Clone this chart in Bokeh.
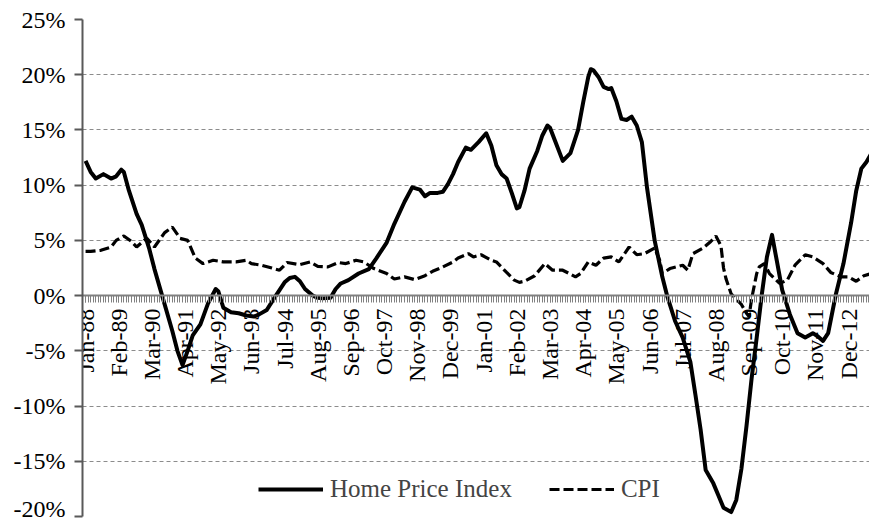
from bokeh.plotting import figure
from bokeh.models import FixedTicker, Legend, LegendItem, Range1d, ColumnDataSource
from bokeh.embed import file_html
from bokeh.resources import INLINE

# Month index 0 = Jan-88
hpi_month = [0, 2, 4, 7, 10, 12, 14, 15, 17, 20, 22, 25, 27, 30, 34, 36, 38, 40, 42, 45, 48, 51, 52, 54, 57,
             60, 63, 66, 68, 71, 74, 76, 78, 80, 82, 84, 86, 89, 91, 93, 96, 98, 100, 103, 107, 111, 114, 118,
             121, 125, 128, 131, 133, 135, 138, 140, 142, 144, 146, 149, 151, 154, 157, 159, 161, 163, 165, 167,
             169, 170, 172, 174, 177, 179, 181, 182, 184, 187, 190, 193, 195, 197, 198, 199, 201, 203, 205, 206,
             208, 210, 212, 214, 216, 218, 220, 223, 226, 228, 231, 234, 237, 239, 241, 243, 246, 248, 250, 253,
             255, 257, 259, 261, 263, 265, 267, 269, 271, 273, 276, 279, 282, 285, 287, 289, 291, 294, 297, 300,
             302, 304, 306, 308]
hpi_value = [12.2, 11.2, 10.6, 11.0, 10.6, 10.8, 11.4, 11.2, 9.5, 7.4, 6.4, 4.2, 2.4, 0.0, -3.2, -5.0, -6.3, -5.0,
             -3.6, -2.6, -0.7, 0.6, 0.4, -1.1, -1.5, -1.6, -1.8, -1.9, -1.7, -1.3, -0.2, 0.5, 1.2, 1.6, 1.7, 1.3,
             0.6, 0.0, -0.2, -0.25, -0.2, 0.6, 1.1, 1.4, 2.0, 2.4, 3.4, 4.8, 6.5, 8.5, 9.8, 9.6, 9.0, 9.3, 9.3, 9.4,
             10.1, 11.0, 12.1, 13.4, 13.2, 13.9, 14.7, 13.6, 11.8, 11.0, 10.6, 9.3, 7.9, 8.0, 9.5, 11.5, 13.1, 14.5,
             15.4, 15.2, 14.0, 12.2, 12.9, 15.0, 17.5, 19.8, 20.5, 20.4, 19.8, 18.9, 18.7, 18.8, 17.6, 16.0, 15.9,
             16.2, 15.4, 13.9, 9.8, 5.0, 1.7, -0.1, -2.3, -3.8, -6.0, -9.0, -12.1, -15.8, -17.0, -18.1, -19.2, -19.6,
             -18.5, -15.7, -11.8, -7.5, -3.8, 0.1, 3.5, 5.5, 3.0, 0.5, -1.7, -3.4, -3.8, -3.4, -3.7, -4.1, -3.4, 0.1,
             2.9, 6.6, 9.5, 11.5, 12.1, 12.9]

cpi_month = [0, 2, 6, 10, 12, 15, 18, 20, 24, 27, 31, 34, 37, 40, 43, 46, 50, 54, 59, 63, 65, 69, 73, 76, 79, 84,
             88, 91, 95, 99, 102, 106, 109, 113, 118, 121, 125, 129, 133, 136, 140, 144, 146, 150, 152, 155, 159,
             161, 165, 168, 170, 172, 176, 180, 183, 187, 192, 194, 197, 200, 203, 206, 209, 213, 216, 219, 223,
             225, 226, 229, 234, 236, 238, 242, 245, 247, 249, 250, 251, 253, 257, 259, 260, 261, 263, 264, 266,
             268, 272, 275, 278, 282, 285, 289, 292, 296, 299, 302, 305, 308]
cpi_value = [4.0, 4.0, 4.1, 4.4, 5.0, 5.4, 4.9, 4.4, 5.2, 4.4, 5.7, 6.2, 5.2, 5.0, 3.4, 2.9, 3.2, 3.05, 3.05, 3.2,
             2.9, 2.75, 2.5, 2.3, 3.0, 2.8, 3.05, 2.65, 2.6, 3.0, 2.9, 3.2, 3.05, 2.45, 2.0, 1.5, 1.7, 1.45, 1.8,
             2.2, 2.6, 3.05, 3.4, 3.8, 3.5, 3.7, 3.2, 3.05, 2.1, 1.4, 1.2, 1.3, 1.8, 2.9, 2.3, 2.3, 1.7, 2.0, 3.05,
             2.75, 3.4, 3.5, 3.05, 4.4, 3.7, 3.8, 4.3, 3.2, 2.0, 2.45, 2.75, 2.3, 3.8, 4.3, 4.9, 5.4, 4.5, 2.5, 1.5,
             0.15, -0.8, -1.6, -1.9, -0.3, 2.0, 2.6, 2.9, 2.0, 1.1, 1.4, 2.75, 3.7, 3.5, 2.9, 2.1, 1.7, 1.7, 1.3,
             1.8, 2.0]

x_tick_months = [0, 13, 26, 39, 52, 65, 78, 91, 104, 117, 130, 143, 156, 169, 182, 195, 208, 221, 234, 247,
                 260, 273, 286, 299]
x_tick_labels = ["Jan-88", "Feb-89", "Mar-90", "Apr-91", "May-92", "Jun-93", "Jul-94", "Aug-95", "Sep-96",
                 "Oct-97", "Nov-98", "Dec-99", "Jan-01", "Feb-02", "Mar-03", "Apr-04", "May-05", "Jun-06",
                 "Jul-07", "Aug-08", "Sep-09", "Oct-10", "Nov-11", "Dec-12"]
all_months = list(range(0, 309))
y_ticks = [-20, -15, -10, -5, 0, 5, 10, 15, 20, 25]
y_tick_labels = ["-20%", "-15%", "-10%", "-5%", "0%", "5%", "10%", "15%", "20%", "25%"]

FONT = "Liberation Serif"

p = figure(width=869, height=521, output_backend="svg", toolbar_location=None,
           x_range=Range1d(-1.2, 307.2), y_range=Range1d(-20, 25),
           min_border_left=82, min_border_right=0, min_border_top=19, min_border_bottom=5)
p.outline_line_color = None
p.background_fill_color = "white"
p.border_fill_color = "white"

# Y axis
p.yaxis.ticker = FixedTicker(ticks=y_ticks)
p.yaxis.major_label_overrides = dict(zip(y_ticks, y_tick_labels))
p.yaxis.axis_line_color = "#595959"
p.yaxis.axis_line_width = 2
p.yaxis.major_tick_line_color = "#595959"
p.yaxis.major_tick_line_width = 2
p.yaxis.major_tick_out = 8
p.yaxis.major_tick_in = 0
p.yaxis.minor_tick_line_color = None
p.yaxis.major_label_text_font = FONT
p.yaxis.major_label_text_font_size = "24px"
p.yaxis.major_label_text_color = "black"
p.yaxis.major_label_standoff = 9

# X axis (category axis at y = 0)
p.xaxis.fixed_location = 0
p.xaxis.ticker = FixedTicker(ticks=x_tick_months, minor_ticks=all_months)
p.xaxis.major_label_overrides = dict(zip(x_tick_months, x_tick_labels))
p.xaxis.major_label_orientation = 1.5708
p.xaxis.axis_line_color = "#808080"
p.xaxis.axis_line_width = 2
p.xaxis.major_tick_line_color = "#808080"
p.xaxis.minor_tick_line_color = "#808080"
p.xaxis.major_tick_out = 7
p.xaxis.major_tick_in = 0
p.xaxis.minor_tick_out = 7
p.xaxis.minor_tick_in = 0
p.xaxis.major_label_text_font = FONT
p.xaxis.major_label_text_font_size = "24px"
p.xaxis.major_label_text_color = "black"
p.xaxis.major_label_standoff = 6

p.xgrid.grid_line_color = None
p.ygrid.ticker = FixedTicker(ticks=y_ticks)
p.ygrid.grid_line_color = "#8c8c8c"
p.ygrid.grid_line_dash = "4 3"
p.ygrid.grid_line_width = 1

hpi_src = ColumnDataSource(dict(x=hpi_month, y=hpi_value))
cpi_src = ColumnDataSource(dict(x=cpi_month, y=cpi_value))
r_hpi = p.line("x", "y", source=hpi_src, line_color="black", line_width=4, line_join="round")
r_cpi = p.line("x", "y", source=cpi_src, line_color="black", line_width=3.2, line_dash="10 4")

legend = Legend(items=[LegendItem(label="Home Price Index", renderers=[r_hpi]),
                       LegendItem(label="CPI", renderers=[r_cpi])],
                orientation="horizontal", location=(176, 13),
                border_line_alpha=0, background_fill_alpha=0,
                label_text_font=FONT, label_text_font_size="25px",
                glyph_width=65, glyph_height=24, label_height=24,
                label_standoff=7, spacing=37, padding=0, margin=0)
p.add_layout(legend)

open("out.html", "w").write(file_html(p, INLINE))
